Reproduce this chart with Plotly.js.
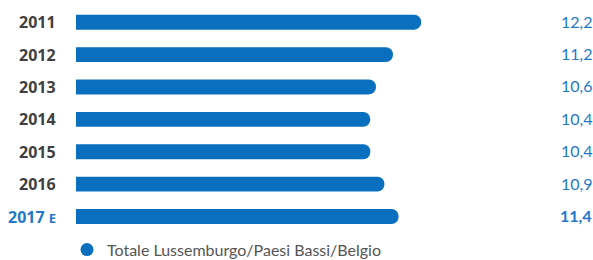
<!DOCTYPE html>
<html>
<head>
<meta charset="utf-8">
<script src="https://cdn.plot.ly/plotly-3.0.1.min.js"></script>
<style>html,body{margin:0;padding:0;background:#fff;}#chart{width:593px;height:260px;}</style>
</head>
<body>
<div id="chart"></div>
<script>
var years = ['2011', '2012', '2013', '2014', '2015', '2016', '2017'];
var values = [12.2, 11.2, 10.6, 10.4, 10.4, 10.9, 11.4];
var valueLabels = ['12,2', '11,2', '10,6', '10,4', '10,4', '10,9', '11,4'];
var yearLabels = ['2011', '2012', '2013', '2014', '2015', '2016', '2017 <span style="font-size:13px">E</span>'];
var seriesName = 'Totale Lussemburgo/Paesi Bassi/Belgio';

var blue = '#0a6fbf';
var labelBlue = '#1f78c8';
var dark = '#404040';

var traces = [
  {
    type: 'bar',
    orientation: 'h',
    x: values,
    y: years,
    width: 0.46,
    marker: {color: blue, cornerradius: 8},
    showlegend: false,
    hoverinfo: 'none'
  },
  {
    type: 'scatter',
    mode: 'markers',
    x: [null],
    y: [null],
    xaxis: 'x2',
    yaxis: 'y2',
    name: seriesName,
    marker: {color: blue, size: 13, symbol: 'circle'},
    showlegend: true,
    hoverinfo: 'none'
  }
];

var annotations = [];
years.forEach(function (yr, i) {
  var last = i === years.length - 1;
  annotations.push({
    xref: 'paper', yref: 'y', x: 0, y: i, xanchor: 'right', yanchor: 'middle',
    xshift: -18, showarrow: false,
    text: '<b>' + yearLabels[i] + '</b>',
    font: {family: 'Open Sans, sans-serif', size: 16, color: last ? labelBlue : dark}
  });
  annotations.push({
    xref: 'paper', yref: 'y', x: 1, y: i, xanchor: 'right', yanchor: 'middle',
    xshift: 3, yshift: 1, showarrow: false,
    text: last ? '<b>' + valueLabels[i] + '</b>' : valueLabels[i],
    font: {family: 'Lato, sans-serif', size: 16, color: labelBlue}
  });
});

var layout = {
  width: 593, height: 260,
  margin: {l: 76, r: 2, t: 6, b: 26},
  paper_bgcolor: '#fff', plot_bgcolor: '#fff',
  xaxis: {range: [0, 18.2], visible: false, fixedrange: true},
  yaxis: {type: 'category', categoryorder: 'array', categoryarray: years,
          range: [years.length - 0.5, -0.5], autorange: false, showticklabels: false,
          showgrid: false, zeroline: false, showline: false, ticks: '', fixedrange: true},
  xaxis2: {visible: false, overlaying: 'x', range: [0, 1]},
  yaxis2: {visible: false, overlaying: 'y', range: [0, 1]},
  showlegend: true,
  legend: {orientation: 'h', xref: 'container', yref: 'container',
           x: 0.113, xanchor: 'left', y: 0.105, yanchor: 'top',
           font: {family: 'Lato, sans-serif', size: 16, color: '#555'},
           bgcolor: 'rgba(0,0,0,0)', itemclick: false},
  annotations: annotations,
  font: {family: 'Lato, sans-serif'}
};

Plotly.newPlot('chart', traces, layout, {displayModeBar: false, staticPlot: true});
</script>
</body>
</html>
